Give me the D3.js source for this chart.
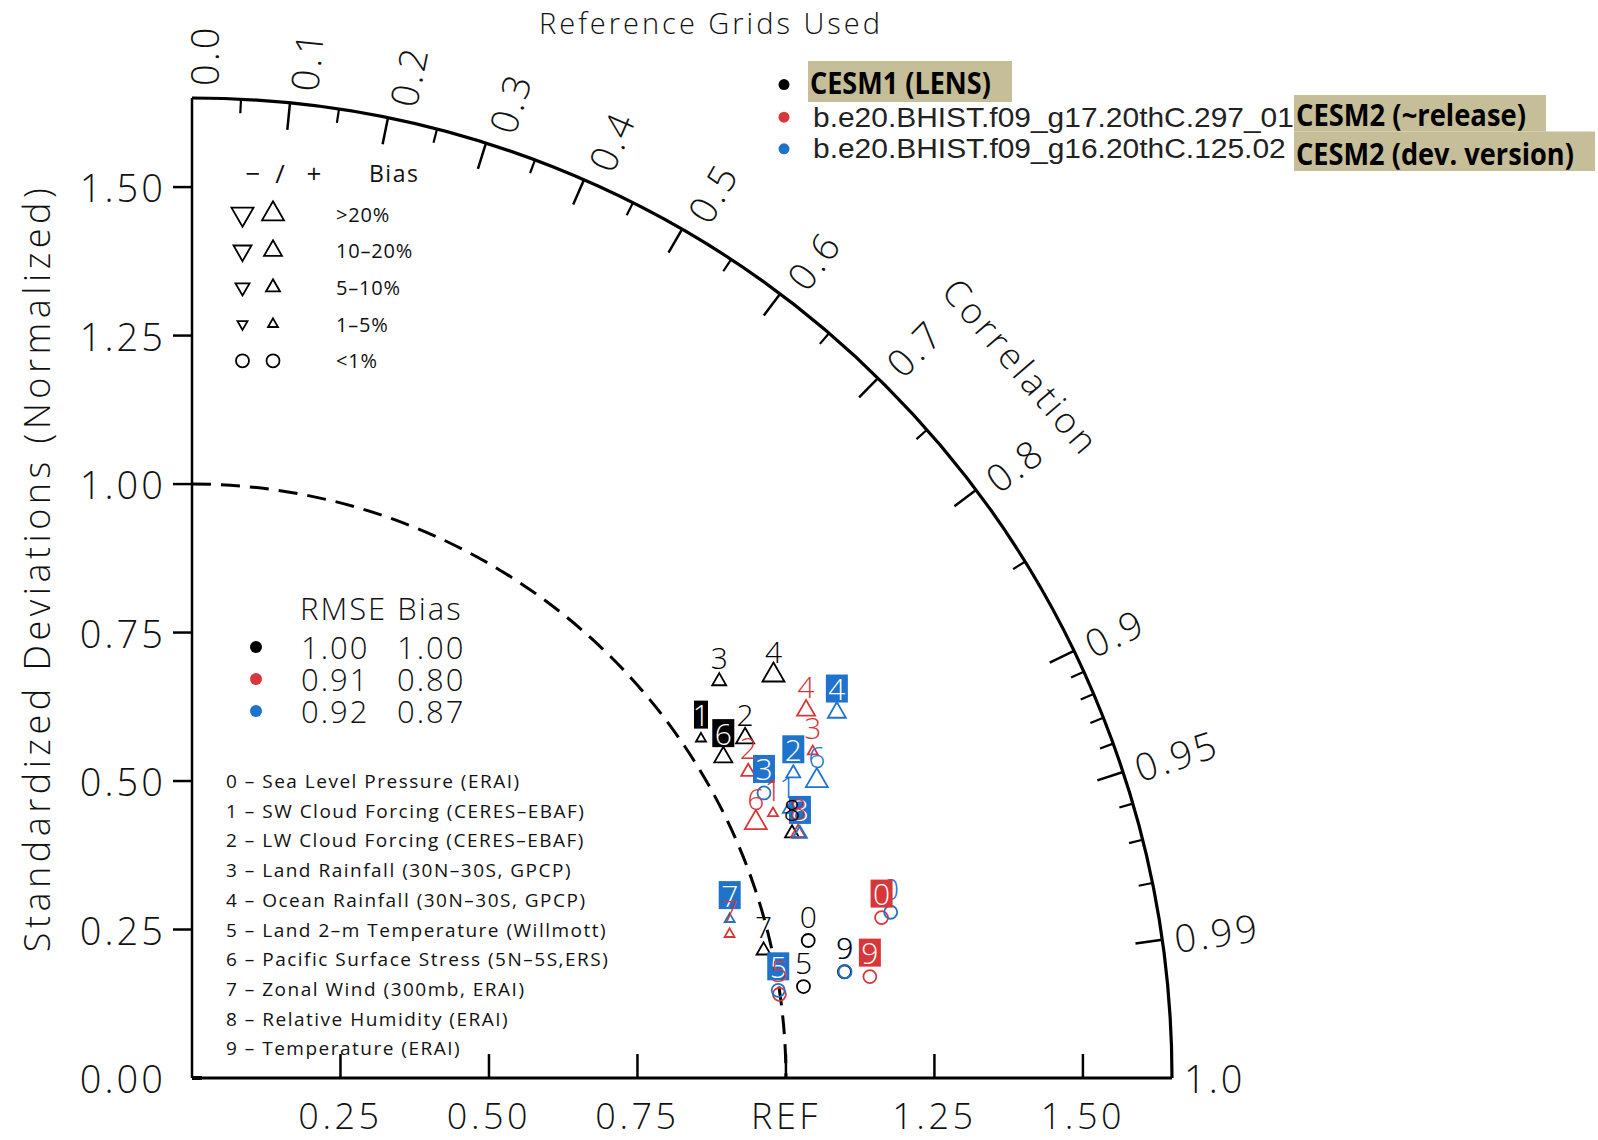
<!DOCTYPE html>
<html><head><meta charset="utf-8">
<script src="https://cdn.jsdelivr.net/npm/d3@7"></script>
<style>
body{margin:0;background:#fff}
svg{display:block}
text{font-family:"Open Sans",sans-serif;font-weight:300;fill:#111}
</style>
</head><body>
<svg id="c" width="1598" height="1140"></svg>
<script>
// ---------------- data ----------------
const categories = ["0","1","2","3","4","5","6","7","8","9"];
const varNames = [
  "Sea Level Pressure (ERAI)",
  "SW Cloud Forcing (CERES\u2013EBAF)",
  "LW Cloud Forcing (CERES\u2013EBAF)",
  "Land Rainfall (30N\u201330S, GPCP)",
  "Ocean Rainfall (30N\u201330S, GPCP)",
  "Land 2\u2013m Temperature (Willmott)",
  "Pacific Surface Stress (5N\u20135S,ERS)",
  "Zonal Wind (300mb, ERAI)",
  "Relative Humidity (ERAI)",
  "Temperature (ERAI)"
];
const modelNames = ["CESM1 (LENS)", "b.e20.BHIST.f09_g17.20thC.297_01", "b.e20.BHIST.f09_g16.20thC.125.02"];
const modelTags = ["", "CESM2 (~release)", "CESM2 (dev. version)"];
const modelColors = ["#000000", "#d8373a", "#1f73cc"];

// normalized standard deviation, correlation, bias class, boxed label
const cesm1Std   = [1.063, 1.030, 1.093, 1.111, 1.191, 1.041, 1.045, 0.986, 1.091, 1.113];
const cesm1Corr  = [0.976, 0.832, 0.852, 0.799, 0.822, 0.989, 0.856, 0.976, 0.926, 0.987];
const cesm1Bias  = ["c","u1","u3","u2","u4","c","u3","u2","u2","c"];
const cesm1Boxed = [0,1,0,0,0,0,1,0,0,0];

const rel297Std   = [1.192, 1.075, 1.069, 1.181, 1.205, 0.999, 1.042, 0.937, 1.101, 1.154];
const rel297Corr  = [0.974, 0.910, 0.876, 0.885, 0.858, 0.990, 0.911, 0.966, 0.927, 0.989];
const rel297Bias  = ["c","u1","u2","u1","u3","c","u4","u1","u2","c"];
const rel297Boxed = [1,0,0,0,0,0,0,0,0,1];

const dev125Std   = [1.209, 1.100, 1.135, 1.076, 1.248, 0.998, 1.165, 0.944, 1.103, 1.114];
const dev125Corr  = [0.973, 0.912, 0.892, 0.895, 0.870, 0.989, 0.903, 0.959, 0.928, 0.987];
const dev125Bias  = ["c","u1","u2","c","u3","c","u4","u1","u2","c"];
const dev125Boxed = [0,0,1,1,1,1,0,1,1,0];

const rmseVals = ["1.00","0.91","0.92"];
const biasVals = ["1.00","0.80","0.87"];

const stdTicks = [0.25, 0.5, 0.75, 1.0, 1.25, 1.5];
const stdTickLabelsY = ["0.25","0.50","0.75","1.00","1.25","1.50"];
const stdTickLabelsX = ["0.25","0.50","0.75","REF","1.25","1.50"];
const corrMajor = [0.0,0.1,0.2,0.3,0.4,0.5,0.6,0.7,0.8,0.9,0.95,0.99,1.0];
const corrMajorLabels = ["0.0","0.1","0.2","0.3","0.4","0.5","0.6","0.7","0.8","0.9","0.95","0.99","1.0"];
const corrMinor = [0.05,0.15,0.25,0.35,0.45,0.55,0.65,0.75,0.85,0.91,0.92,0.93,0.94,0.96,0.97,0.98];
const biasClasses = ["u4","u3","u2","u1","c"];
const biasClassLabels = [">20%","10\u201320%","5\u201310%","1\u20135%","<1%"];

// ---------------- layout ----------------
const svg = d3.select("#c");
const ox = 192, oy = 1078;
const maxStd = 1.65;
const r = d3.scaleLinear().domain([0, maxStd]).range([0, 980]);
const R = r(maxStd);
const g = svg.append("g").attr("transform", `translate(${ox},${oy})`);

const triSize = {u4: 22, u3: 18, u2: 14, u1: 10};
function markerPath(cls, down) {
  const s = triSize[cls], h = s * Math.sqrt(3) / 2;
  const sg = down ? -1 : 1;
  return `M0,${-sg*h*2/3}L${s/2},${sg*h/3}L${-s/2},${sg*h/3}Z`;
}
function drawMarker(sel, cls, x, y, color, down) {
  if (cls === "c") {
    sel.append("circle").attr("cx", x).attr("cy", y).attr("r", 6.5)
      .attr("fill", "none").attr("stroke", color).attr("stroke-width", 1.8);
  } else {
    sel.append("path").attr("d", markerPath(cls, down))
      .attr("transform", `translate(${x},${y})`)
      .attr("fill", "none").attr("stroke", color).attr("stroke-width", 1.8)
      .attr("stroke-linejoin", "miter");
  }
}
const polar = (s, c) => [r(s * c), -r(s * Math.sqrt(Math.max(0, 1 - c * c)))];
function quarterArc(rad) {
  const p = d3.path();
  p.moveTo(0, -rad);
  p.arc(0, 0, rad, -Math.PI / 2, 0, false);
  return p.toString();
}
// text squeezed horizontally to a target width
function fitText(sel, txt, x, y, target, styles) {
  const t = sel.append("text").attr("x", 0).attr("y", 0).attr("dominant-baseline", "central").text(txt);
  Object.entries(styles).forEach(([k, v]) => t.style(k, v));
  const len = t.node().getComputedTextLength() || target;
  t.attr("transform", `translate(${x},${y}) scale(${target / len},1)`);
  return t;
}

// axes
g.append("line").attr("x1", 0).attr("y1", 0).attr("x2", 0).attr("y2", -R)
  .attr("stroke", "#000").attr("stroke-width", 2.5);
g.append("line").attr("x1", 0).attr("y1", 0).attr("x2", R).attr("y2", 0)
  .attr("stroke", "#000").attr("stroke-width", 2.8);
g.append("line").attr("x1", 0).attr("y1", 0).attr("x2", 10).attr("y2", 0)
  .attr("stroke", "#000").attr("stroke-width", 4);

// outer arc
g.append("path").attr("d", quarterArc(R))
  .attr("fill", "none").attr("stroke", "#000").attr("stroke-width", 3.2);
// reference dashed arc
g.append("path").attr("d", quarterArc(r(1)))
  .attr("fill", "none").attr("stroke", "#000").attr("stroke-width", 3).attr("stroke-dasharray", "19,10");

// y ticks
stdTicks.forEach((s, i) => {
  g.append("line").attr("x1", -19).attr("x2", 0).attr("y1", -r(s)).attr("y2", -r(s))
    .attr("stroke", "#000").attr("stroke-width", 2.5);
  g.append("text").attr("x", -26).attr("y", -r(s)).attr("text-anchor", "end")
    .attr("dominant-baseline", "central").style("font-size", "38px").style("letter-spacing", "3px")
    .text(stdTickLabelsY[i]);
});
g.append("text").attr("x", -26).attr("y", 0).attr("text-anchor", "end")
  .attr("dominant-baseline", "central").style("font-size", "38px").style("letter-spacing", "3px").text("0.00");
// x ticks
stdTicks.forEach((s, i) => {
  g.append("line").attr("x1", r(s)).attr("x2", r(s)).attr("y1", 0).attr("y2", -24)
    .attr("stroke", "#000").attr("stroke-width", 2.5);
  g.append("text").attr("x", r(s)).attr("y", 37).attr("text-anchor", "middle")
    .attr("dominant-baseline", "central").style("font-size", "36px").style("letter-spacing", "3.5px")
    .text(stdTickLabelsX[i]);
});

// correlation ticks and labels
corrMinor.forEach(c => {
  const t = Math.acos(c);
  g.append("line")
    .attr("x1", R * Math.cos(t)).attr("y1", -R * Math.sin(t))
    .attr("x2", (R - 14) * Math.cos(t)).attr("y2", -(R - 14) * Math.sin(t))
    .attr("stroke", "#000").attr("stroke-width", 2.2);
});
corrMajor.forEach((c, i) => {
  const t = Math.acos(c);
  if (c > 0 && c < 1) {
    g.append("line")
      .attr("x1", R * Math.cos(t)).attr("y1", -R * Math.sin(t))
      .attr("x2", (R - 27) * Math.cos(t)).attr("y2", -(R - 27) * Math.sin(t))
      .attr("stroke", "#000").attr("stroke-width", 2.5);
  }
  const rl = R + 12;
  const deg = t * 180 / Math.PI;
  const sx = rl * Math.cos(t) + 12 * Math.sin(t) * Math.sin(t);
  g.append("text")
    .attr("transform", `translate(${sx},${-rl * Math.sin(t)}) rotate(${-deg})`)
    .attr("text-anchor", "start").attr("dominant-baseline", "central")
    .style("font-size", "38px").style("letter-spacing", "3px")
    .text(corrMajorLabels[i]);
});
// Correlation title
{
  const t = 40.6 * Math.PI / 180, rr = r(1.84);
  g.append("text")
    .attr("transform", `translate(${rr * Math.cos(t)},${-rr * Math.sin(t)}) rotate(${90 - 40.6})`)
    .attr("text-anchor", "middle").attr("dominant-baseline", "central")
    .style("font-size", "36px").style("letter-spacing", "3.5px").text("Correlation");
}

// titles
svg.append("text").attr("x", 711).attr("y", 22).attr("text-anchor", "middle")
  .attr("dominant-baseline", "central").style("font-size", "29px").style("letter-spacing", "3px")
  .text("Reference Grids Used");
svg.append("text").attr("transform", "translate(36,568) rotate(-90)").attr("text-anchor", "middle")
  .attr("dominant-baseline", "central").style("font-size", "36px").style("letter-spacing", "4.5px")
  .text("Standardized Deviations (Normalized)");

// bias legend
const bl = svg.append("g");
[["\u2212", 253], ["/", 280], ["+", 314]].forEach(d =>
  bl.append("text").attr("x", d[1]).attr("y", 173).attr("text-anchor", "middle")
    .attr("dominant-baseline", "central").style("font-size", "26px").style("font-weight", 400).text(d[0]));
bl.append("text").attr("x", 369).attr("y", 173).attr("dominant-baseline", "central")
  .style("font-size", "23px").style("font-weight", 400).style("letter-spacing", "1.5px").text("Bias");
biasClasses.forEach((cls, i) => {
  const y = 214 + i * 36.7;
  drawMarker(bl, cls, 242.5, y, "#000", true);
  drawMarker(bl, cls, 273, y, "#000", false);
  bl.append("text").attr("x", 336).attr("y", y).attr("dominant-baseline", "central")
    .style("font-size", "20px").style("font-weight", 400).style("letter-spacing", "0.8px").text(biasClassLabels[i]);
});

// RMSE / Bias legend
const rlg = svg.append("g");
rlg.append("text").attr("x", 300).attr("y", 608).attr("dominant-baseline", "central")
  .style("font-size", "31px").style("letter-spacing", "2px").text("RMSE Bias");
rmseVals.forEach((v, i) => {
  const y = 647 + i * 32;
  rlg.append("circle").attr("cx", 256).attr("cy", y).attr("r", 6).attr("fill", modelColors[i]);
  rlg.append("text").attr("x", 301).attr("y", y).attr("dominant-baseline", "central")
    .style("font-size", "31px").style("letter-spacing", "2px").text(v);
  rlg.append("text").attr("x", 397).attr("y", y).attr("dominant-baseline", "central")
    .style("font-size", "31px").style("letter-spacing", "2px").text(biasVals[i]);
});

// variable list
const vl = svg.append("g");
categories.forEach((c, i) => {
  vl.append("text").attr("x", 226).attr("y", 781 + i * 29.7).attr("dominant-baseline", "central")
    .style("font-size", "19px").style("font-weight", 400).style("letter-spacing", "1.5px")
    .text(`${c} \u2013 ${varNames[i]}`);
});

// model legend
const ml = svg.append("g");
const tagBoxes = [[808, 61, 204, 41], [1294, 95, 252, 36.5], [1294, 131.5, 301, 39.5]];
const rowY = [84.6, 117.2, 148.8];
tagBoxes.forEach(b => ml.append("rect").attr("x", b[0]).attr("y", b[1]).attr("width", b[2]).attr("height", b[3]).attr("fill", "#c6bd99"));
modelNames.forEach((m, i) => {
  ml.append("circle").attr("cx", 784).attr("cy", rowY[i]).attr("r", 5.5).attr("fill", modelColors[i]);
});
const boldStyle = {"font-size": "30px", "font-weight": 700, "fill": "#000"};
const plainStyle = {"font-family": "'Liberation Sans',sans-serif", "font-weight": 400, "font-size": "27px", "fill": "#222"};
fitText(ml, modelNames[0], 810, 82, 181, boldStyle);
fitText(ml, modelNames[1], 813, rowY[1], 481, plainStyle);
fitText(ml, modelNames[2], 813, rowY[2], 473, plainStyle);
fitText(ml, modelTags[1], 1296, 114, 230, boldStyle);
fitText(ml, modelTags[2], 1296, 153, 278, boldStyle);

// ---------------- data points ----------------
const series = [
  {std: cesm1Std, corr: cesm1Corr, bias: cesm1Bias, boxed: cesm1Boxed, color: modelColors[0]},
  {std: rel297Std, corr: rel297Corr, bias: rel297Bias, boxed: rel297Boxed, color: modelColors[1]},
  {std: dev125Std, corr: dev125Corr, bias: dev125Bias, boxed: dev125Boxed, color: modelColors[2]}
];
const pts = g.append("g");
series.forEach(s => {
  categories.forEach((c, i) => {
    const [x, y] = polar(s.std[i], s.corr[i]);
    drawMarker(pts, s.bias[i], x, y, s.color, false);
  });
});
const labs = g.append("g");
[2, 1, 0].forEach(k => {
  const s = series[k];
  categories.forEach((c, i) => {
    const [x, y0] = polar(s.std[i], s.corr[i]);
    const y = y0 - 24;
    if (s.boxed[i]) {
      const w = c === "1" ? 14 : 22;
      labs.append("rect").attr("x", x - w / 2).attr("y", y - 14).attr("width", w).attr("height", 28)
        .attr("fill", s.color);
      labs.append("text").attr("x", x).attr("y", y).attr("text-anchor", "middle")
        .attr("dominant-baseline", "central").style("font-size", "30px").style("fill", "#fff").text(c);
    } else {
      labs.append("text").attr("x", x).attr("y", y).attr("text-anchor", "middle")
        .attr("dominant-baseline", "central").style("font-size", "30px").style("fill", s.color).text(c);
    }
  });
});
</script>
</body></html>
